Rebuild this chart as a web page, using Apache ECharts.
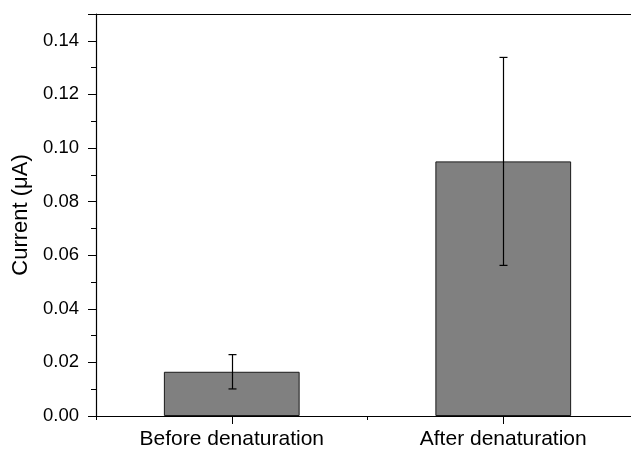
<!DOCTYPE html>
<html>
<head>
<meta charset="utf-8">
<script src="https://cdn.jsdelivr.net/npm/echarts@6/dist/echarts.min.js"></script>
<style>
  html, body { margin: 0; padding: 0; background: #fff; overflow: hidden; }
  #chart { width: 631px; height: 449px; }
</style>
</head>
<body>
<div id="chart"></div>
<script>
// Current measured before and after denaturation (mean ± error)
const categories = ['Before denaturation', 'After denaturation'];
const means = [0.0165, 0.0950];
const errors = [0.0064, 0.0388];
const yTicks = { min: 0, max: 0.15, interval: 0.02 };

const FONT = '"Liberation Sans", Arial, sans-serif';

const chart = echarts.init(document.getElementById('chart'), null, { renderer: 'canvas' });

const errorData = categories.map((c, i) => [i, means[i] - errors[i], means[i] + errors[i]]);

chart.setOption({
  animation: false,
  backgroundColor: '#ffffff',
  // plot frame runs slightly past the right edge of the canvas
  grid: { left: 96, top: 14, width: 543, height: 402, containLabel: false, outerBoundsMode: 'none' },
  xAxis: [
    {
      type: 'category',
      data: categories,
      position: 'bottom',
      axisLine: { show: true, lineStyle: { color: '#000', width: 1.2 } },
      axisTick: { show: true, alignWithLabel: true, inside: false, length: 8, lineStyle: { color: '#000' } },
      axisLabel: { color: '#000', fontFamily: FONT, fontSize: 21, margin: 13 },
      splitLine: { show: false }
    },
    {
      // boundary ticks between the two categories
      type: 'category',
      data: categories,
      position: 'bottom',
      axisLine: { show: false },
      axisTick: { show: true, alignWithLabel: false, length: 4, lineStyle: { color: '#000' } },
      axisLabel: { show: false },
      splitLine: { show: false }
    },
    {
      type: 'category',
      data: categories,
      position: 'top',
      axisLine: { show: true, lineStyle: { color: '#000', width: 1.2 } },
      axisTick: { show: false },
      axisLabel: { show: false },
      splitLine: { show: false }
    }
  ],
  yAxis: {
    type: 'value',
    min: yTicks.min,
    max: yTicks.max,
    interval: yTicks.interval,
    name: 'Current (\u03bcA)',
    nameLocation: 'middle',
    nameGap: 62,
    nameRotate: 90,
    nameTextStyle: { color: '#000', fontFamily: FONT, fontSize: 22 },
    axisLine: { show: true, lineStyle: { color: '#000', width: 1.2 } },
    axisTick: { show: true, inside: false, length: 8, lineStyle: { color: '#000' } },
    minorTick: { show: true, splitNumber: 2, length: 5, lineStyle: { color: '#000' } },
    axisLabel: {
      color: '#000', fontFamily: FONT, fontSize: 18.5, margin: 17,
      showMaxLabel: false,
      formatter: v => v.toFixed(2)
    },
    splitLine: { show: false },
    minorSplitLine: { show: false }
  },
  series: [
    {
      type: 'bar',
      data: means,
      barWidth: '50%',
      itemStyle: { color: '#808080', borderColor: '#1a1a1a', borderWidth: 1 }
    },
    {
      type: 'custom',
      data: errorData,
      z: 10,
      renderItem: (params, api) => {
        const x = api.value(0);
        const lo = api.coord([x, api.value(1)]);
        const hi = api.coord([x, api.value(2)]);
        const cx = Math.round(lo[0]) + 0.5;
        const half = 4;
        const style = { stroke: '#000', lineWidth: 1.2 };
        return {
          type: 'group',
          children: [
            { type: 'line', shape: { x1: cx, y1: hi[1], x2: cx, y2: lo[1] }, style },
            { type: 'line', shape: { x1: cx - half, y1: hi[1], x2: cx + half, y2: hi[1] }, style },
            { type: 'line', shape: { x1: cx - half, y1: lo[1], x2: cx + half, y2: lo[1] }, style }
          ]
        };
      }
    }
  ]
});
</script>
</body>
</html>
